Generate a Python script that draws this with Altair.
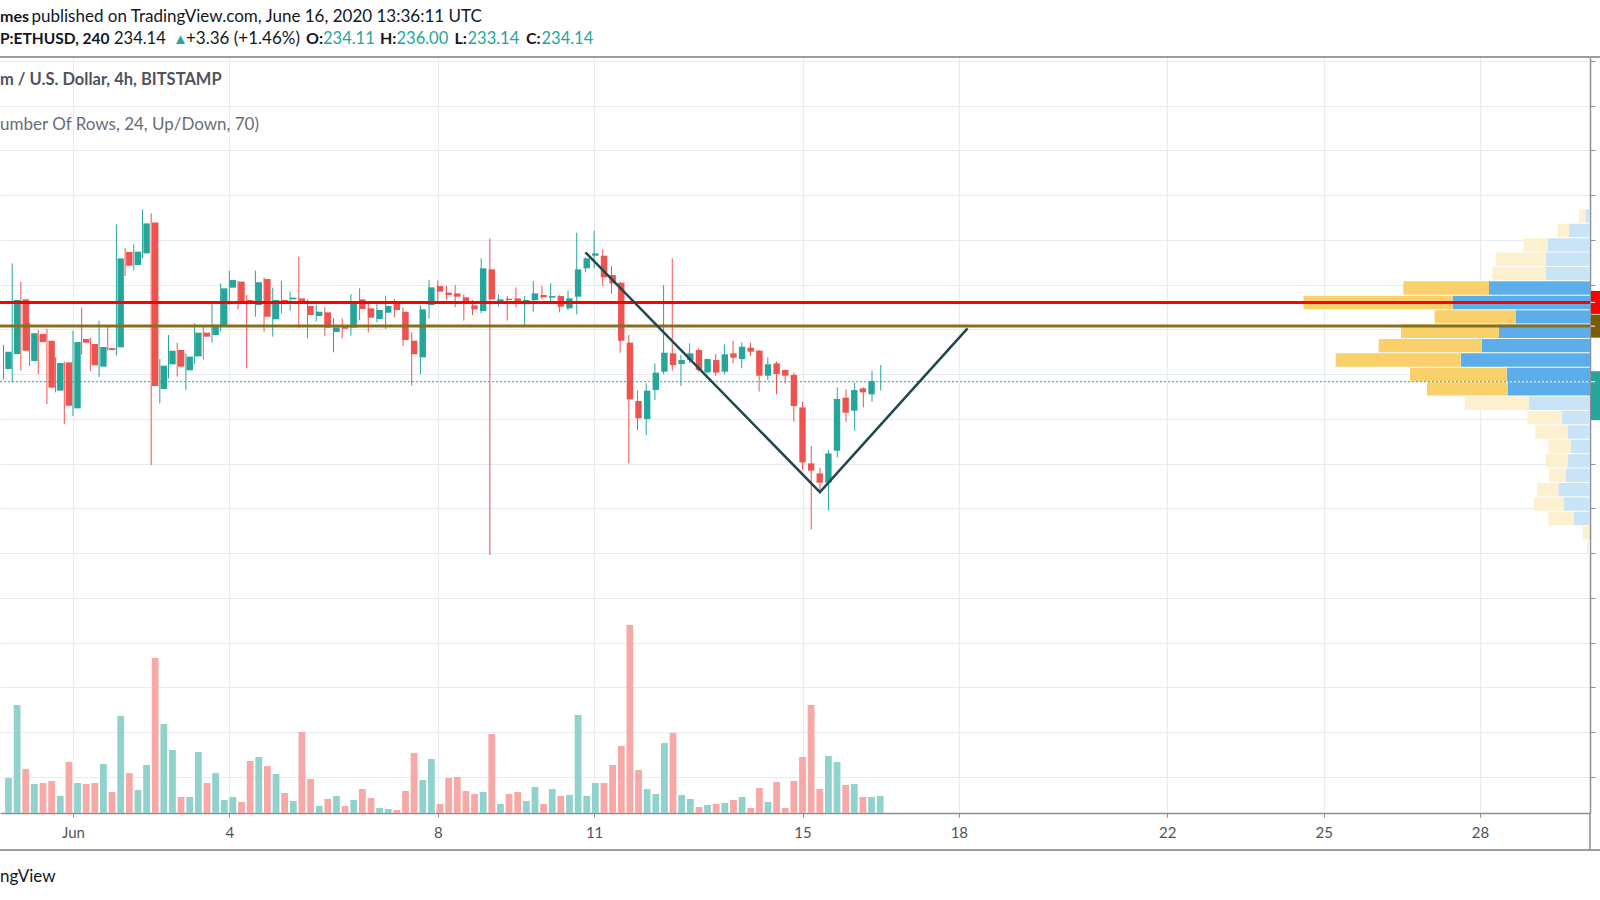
import altair as alt
import numpy as np
import pandas as pd

# ---------------- data ----------------
BAR_START = "2020-05-30 16:00"   # first visible 4h bar (UTC)

OPEN = [235.56, 237.23, 243.34, 236.45, 239.47, 238.72, 233.14, 236.30, 231.16, 238.91,
        238.35, 235.82, 237.90, 237.98, 248.63, 247.18, 248.48, 251.94, 233.32, 236.08,
        237.68, 235.41, 236.97, 239.62, 239.36, 240.47, 244.65, 245.32, 243.27, 242.71,
        245.61, 241.11, 243.27, 243.34, 243.45, 242.60, 241.48, 241.89, 239.69, 240.36,
        240.18, 243.34, 242.34, 241.14, 241.85, 242.82, 241.96, 238.72, 236.86, 242.71,
        244.83, 244.09, 244.01, 243.57, 242.67, 242.04, 246.69, 243.08, 243.42, 243.45,
        242.78, 243.27, 243.83, 243.53, 243.71, 242.34, 243.64, 246.81, 248.22, 248.22,
        246.06, 245.20, 238.50, 231.98, 229.97, 233.21, 235.26, 237.31, 236.12, 236.56,
        237.68, 235.19, 236.56, 235.26, 237.31, 236.67, 237.94, 237.61, 234.81, 236.19,
        235.45, 234.89, 231.27, 225.02, 223.90, 222.86, 226.43, 232.35, 230.90, 233.40,
        232.73, 234.11]
HIGH = [238.24, 247.36, 245.32, 240.73, 239.91, 240.03, 236.86, 236.40, 239.84, 242.41,
        239.06, 240.96, 240.29, 251.72, 249.11, 249.49, 253.40, 252.95, 236.68, 239.36,
        238.50, 237.31, 240.66, 240.36, 243.08, 245.13, 246.54, 245.40, 243.83, 246.54,
        245.80, 244.65, 245.39, 244.20, 248.11, 243.34, 242.78, 242.45, 241.22, 241.22,
        243.94, 244.57, 243.08, 242.90, 243.75, 243.38, 242.45, 239.66, 242.71, 245.50,
        245.43, 244.83, 244.94, 243.90, 243.27, 247.92, 250.16, 243.90, 243.71, 244.68,
        243.71, 245.39, 244.83, 245.13, 243.80, 244.31, 250.79, 248.03, 251.01, 248.93,
        247.07, 245.32, 239.36, 233.14, 233.96, 236.19, 244.94, 247.92, 237.12, 238.43,
        237.87, 236.75, 237.23, 238.31, 238.72, 238.54, 238.50, 237.70, 236.86, 236.38,
        235.50, 235.15, 231.91, 226.95, 224.53, 226.51, 233.51, 233.29, 234.03, 233.51,
        235.37, 236.00]
LOW = [234.40, 234.03, 235.37, 235.90, 235.00, 231.65, 232.95, 229.41, 230.30, 237.16,
       235.30, 234.66, 237.60, 237.05, 245.95, 246.58, 247.92, 224.83, 231.72, 234.51,
       234.70, 233.21, 236.12, 236.64, 238.50, 239.73, 242.71, 242.22, 235.63, 241.40,
       239.73, 239.17, 241.78, 242.07, 240.18, 238.98, 240.85, 239.24, 237.42, 238.98,
       239.28, 241.03, 239.66, 240.77, 240.03, 241.33, 238.13, 233.70, 234.96, 241.22,
       243.08, 243.27, 242.45, 240.96, 241.59, 241.78, 214.78, 242.52, 240.96, 242.45,
       240.47, 241.96, 243.34, 242.90, 241.89, 242.15, 241.66, 246.36, 246.81, 244.83,
       244.01, 237.38, 225.02, 228.74, 228.18, 232.09, 235.00, 235.37, 233.66, 236.19,
       235.26, 235.07, 234.78, 235.00, 236.19, 235.63, 237.01, 233.03, 234.33, 232.73,
       233.96, 229.67, 224.27, 217.64, 222.04, 219.73, 225.69, 229.67, 228.67, 231.27,
       231.91, 233.14]
CLOSE = [237.49, 243.27, 237.60, 239.54, 238.57, 233.47, 236.23, 231.46, 238.57, 238.50,
         235.97, 238.02, 237.68, 247.92, 247.10, 248.67, 251.83, 233.66, 235.93, 237.60,
         235.82, 236.94, 239.62, 239.17, 240.51, 244.57, 245.50, 242.90, 243.08, 245.24,
         241.40, 243.27, 243.08, 243.53, 243.08, 241.59, 241.96, 240.18, 240.21, 240.06,
         243.16, 242.26, 241.29, 242.15, 242.60, 242.15, 238.80, 237.20, 242.22, 244.68,
         244.20, 243.83, 243.64, 243.08, 242.22, 246.81, 243.34, 243.34, 243.27, 242.97,
         243.27, 244.01, 243.57, 243.71, 242.52, 243.45, 246.69, 247.92, 248.48, 245.80,
         245.13, 238.72, 232.17, 230.05, 233.14, 235.15, 237.38, 236.00, 236.56, 237.31,
         235.45, 236.67, 235.15, 237.20, 236.82, 238.05, 237.49, 234.81, 236.08, 235.00,
         234.81, 231.42, 225.13, 224.20, 222.86, 226.13, 232.21, 230.68, 233.21, 232.95,
         234.22, 234.14]
VOLUME_K = [3.5, 10.8, 4.4, 2.9, 3.0, 3.2, 1.7, 5.1, 3.0, 2.9,
            3.0, 4.9, 2.1, 9.7, 4.0, 2.3, 4.8, 15.5, 8.9, 6.3,
            1.6, 1.6, 6.1, 3.0, 4.0, 1.3, 1.6, 1.1, 5.2, 5.6,
            4.7, 3.9, 2.0, 1.2, 8.1, 3.4, 0.7, 1.4, 1.7, 0.7,
            1.3, 2.4, 1.5, 0.5, 0.4, 0.3, 2.2, 6.0, 3.3, 5.4,
            0.9, 3.5, 3.6, 2.2, 1.9, 2.1, 7.9, 0.9, 1.9, 2.1,
            1.2, 2.6, 0.9, 2.4, 1.7, 1.8, 9.8, 1.7, 3.0, 3.0,
            4.8, 6.7, 18.8, 4.3, 2.4, 1.9, 7.0, 8.0, 1.8, 1.4,
            0.6, 0.8, 0.9, 1.0, 1.3, 1.6, 0.5, 2.5, 1.1, 3.1,
            0.5, 3.2, 5.6, 10.8, 2.4, 5.7, 5.1, 2.8, 2.9, 1.6,
            1.6, 1.7]

# Volume profile (24 rows, top to bottom), up / down volume
VP_UP = [4.3, 21.0, 42.3, 44.3, 44.3, 101.0, 137.3, 74.0, 91.0, 108.3, 129.3, 83.3,
         82.0, 61.3, 28.3, 22.3, 19.3, 22.3, 24.0, 31.6, 26.3, 16.6, 1.0, 0.0]
VP_DOWN = [6.7, 11.3, 24.3, 50.0, 53.3, 85.7, 149.3, 81.3, 98.0, 103.0, 125.0, 96.7,
           81.0, 64.0, 34.3, 32.3, 22.3, 22.0, 17.0, 21.3, 29.7, 25.0, 6.3, 3.0]
VP_VALUE_AREA = [False] * 5 + [True] * 8 + [False] * 11

RESISTANCE = 243.0
SUPPORT = 240.35
LAST_PRICE = 234.14

V_TIMES = ["2020-06-10T20:00:00Z", "2020-06-15T08:00:00Z", "2020-06-18T04:00:00Z"]
V_PRICES = [248.6, 221.8, 240.1]

TICK_DAYS = [1, 4, 8, 11, 15, 18, 22, 25, 28]
PRICE_GRID = list(range(190, 271, 5))

# ---------------- styling ----------------
FONT = "Lato"
GREEN, RED = "#26a69a", "#ef5350"
VGREEN, VRED = "#92d2cc", "#f7a9a7"
GRID = "#e6ecf2"
AX = "#8a8e97"
W, H = 1590, 756

times = pd.date_range(BAR_START, periods=len(OPEN), freq="4h")
df = pd.DataFrame({
    "t": times.strftime("%Y-%m-%dT%H:%M:%SZ"),
    "open": OPEN, "high": HIGH, "low": LOW, "close": CLOSE, "vol": VOLUME_K,
})
df["dir"] = np.where(df["close"] >= df["open"], "up", "down")

hi, lo = max(HIGH), min(LOW)
step = (hi - lo) / len(VP_UP)
vp_rows = []
for i, (u, d, va) in enumerate(zip(VP_UP, VP_DOWN, VP_VALUE_AREA)):
    top = hi - i * step
    bot = top - step
    vp_rows.append({"top": top, "bot": bot, "x0": 0.0, "x1": u, "kind": "up" + ("_va" if va else "")})
    vp_rows.append({"top": top, "bot": bot, "x0": u, "x1": u + d, "kind": "down" + ("_va" if va else "")})
vp = pd.DataFrame(vp_rows)

X_DOMAIN = [alt.DateTime(year=2020, month=5, date=30, hours=14, minutes=23, utc=True),
            alt.DateTime(year=2020, month=6, date=30, hours=2, minutes=40, utc=True)]
TS = alt.Scale(type="utc", domain=X_DOMAIN)
PS = alt.Scale(domain=[185.95, 270.42], nice=False, zero=False)
DIR_COLOR = alt.Color("dir:N", scale=alt.Scale(domain=["up", "down"], range=[GREEN, RED]), legend=None)

x_axis = alt.Axis(
    values=[alt.DateTime(year=2020, month=6, date=d, utc=True) for d in TICK_DAYS],
    labelExpr="utcFormat(datum.value, '%d') == '01' ? 'Jun' : utcFormat(datum.value, '%-d')",
    grid=True, gridColor=GRID, gridWidth=1, tickSize=4, tickColor=AX, domainColor=AX,
    domainWidth=1.5, labelFontSize=15, labelColor="#50535e", labelPadding=8, title=None,
    labelFont=FONT, labelFlush=False,
)
y_axis = alt.Axis(
    orient="right", values=PRICE_GRID, labels=False, ticks=True, tickSize=5, tickColor=AX,
    domainColor=AX, domainWidth=1.5, grid=True, gridColor=GRID, gridWidth=1, title=None,
)

base = alt.Chart(df)

wicks = base.mark_rule(strokeWidth=1).encode(
    x=alt.X("t:T", scale=TS, axis=x_axis),
    y=alt.Y("low:Q", scale=PS, axis=y_axis),
    y2="high:Q",
    color=DIR_COLOR,
)
bodies = base.mark_bar(width=6.4).encode(
    x=alt.X("t:T", scale=TS, axis=None),
    y=alt.Y("open:Q", scale=PS, axis=None),
    y2="close:Q",
    color=DIR_COLOR,
)
volume = base.mark_bar(width=6.8).encode(
    x=alt.X("t:T", scale=TS, axis=None),
    y=alt.Y("vol:Q", scale=alt.Scale(domain=[0, 75.6], nice=False), axis=None),
    color=alt.Color("dir:N", scale=alt.Scale(domain=["up", "down"], range=[VGREEN, VRED]), legend=None),
)
profile = alt.Chart(vp).mark_rect(y2Offset=-1).encode(
    x=alt.X("x0:Q", scale=alt.Scale(domain=[0, W], reverse=True, nice=False, zero=False), axis=None),
    x2="x1:Q",
    y=alt.Y("top:Q", scale=PS, axis=None),
    y2="bot:Q",
    color=alt.Color("kind:N", scale=alt.Scale(
        domain=["up_va", "down_va", "up", "down"],
        range=["#5caeea", "#f9d06a", "#c9e3f7", "#fdf0cf"]), legend=None),
)

levels = pd.DataFrame({"p": [LAST_PRICE, SUPPORT, RESISTANCE],
                       "name": ["last", "support", "resistance"]})
last_line = alt.Chart(levels[levels.name == "last"]).mark_rule(
    color=GREEN, strokeWidth=1, strokeDash=[2, 2]).encode(y=alt.Y("p:Q", scale=PS, axis=None))
support_line = alt.Chart(levels[levels.name == "support"]).mark_rule(
    color="#86701f", strokeWidth=3).encode(y=alt.Y("p:Q", scale=PS, axis=None))
res_line = alt.Chart(levels[levels.name == "resistance"]).mark_rule(
    color="#ff0000", strokeWidth=3).encode(y=alt.Y("p:Q", scale=PS, axis=None))

vdf = pd.DataFrame({"t": V_TIMES, "p": V_PRICES, "o": [0, 1, 2]})
vline = alt.Chart(vdf).mark_line(color="#22474f", strokeWidth=2.5).encode(
    x=alt.X("t:T", scale=TS, axis=None),
    y=alt.Y("p:Q", scale=PS, axis=None),
    order="o:Q",
)

# price tags on the (cut-off) right price scale
def tag(name, color, width, offset=0):
    return alt.Chart(levels[levels.name == name]).mark_rule(
        color=color, strokeWidth=width, yOffset=offset).encode(
        y=alt.Y("p:Q", scale=PS, axis=None), x=alt.value(W + 1), x2=alt.value(W + 10))

tags = [tag("resistance", "#ff0000", 23), tag("support", "#7a5c00", 23),
        tag("last", GREEN, 49, 14)]
tag_ticks = alt.Chart(levels).mark_rule(color="white", strokeWidth=1).encode(
    y=alt.Y("p:Q", scale=PS, axis=None), x=alt.value(W + 1), x2=alt.value(W + 5))

# frame lines
one = pd.DataFrame({"a": [0]})
top_sep = alt.Chart(one).mark_rule(color="#9a9da4", strokeWidth=2).encode(
    x=alt.value(0), x2=alt.value(W + 10), y=alt.value(0))
bottom_sep = alt.Chart(one).mark_rule(color="#9a9da4", strokeWidth=2).encode(
    x=alt.value(0), x2=alt.value(W + 10), y=alt.value(H + 37))
right_sep = alt.Chart(one).mark_rule(color=AX, strokeWidth=1.5).encode(
    x=alt.value(W), y=alt.value(H), y2=alt.value(H + 37))


def txt(s, x, y, color="#131722", bold=False, size=16):
    return alt.Chart(pd.DataFrame({"s": [s]})).mark_text(
        align="left", baseline="middle", font=FONT, fontSize=size,
        fontWeight="bold" if bold else "normal", color=color,
    ).encode(text="s:N", x=alt.value(x), y=alt.value(y))


texts = [
    txt("mes", 0, -40.5, bold=True),
    txt("published on TradingView.com, June 16, 2020 13:36:11 UTC", 31.5, -40.5, size=17),
    txt("P:ETHUSD, 240", 0, -18, bold=True, size=15.5),
    txt("234.14", 114, -18, size=16.5),
    txt("▲", 173, -18.5, color=GREEN, size=15),
    txt("+3.36 (+1.46%)", 186, -18, size=17),
    txt("O:", 306, -18, bold=True),
    txt("234.11", 323, -18, color=GREEN, size=16.5),
    txt("H:", 380, -18, bold=True),
    txt("236.00", 396.5, -18, color=GREEN, size=16.5),
    txt("L:", 454.5, -18, bold=True),
    txt("233.14", 467.5, -18, color=GREEN, size=16.5),
    txt("C:", 526, -18, bold=True),
    txt("234.14", 541.5, -18, color=GREEN, size=16.5),
    txt("m / U.S. Dollar, 4h, BITSTAMP", 0, 22.5, color="#50535e", bold=True, size=16.5),
    txt("umber Of Rows, 24, Up/Down, 70)", 0, 67.5, color="#6a6d78", size=17),
    txt("ngView", 0, 820, size=17),
]

chart = alt.layer(
    wicks, profile, volume, bodies, last_line, support_line, res_line, vline,
    *tags, tag_ticks, top_sep, bottom_sep, right_sep, *texts,
).resolve_scale(
    x="independent", y="independent", color="independent"
).properties(
    width=W, height=H,
    padding={"left": 0, "right": 10, "top": 57, "bottom": 87},
    autosize=alt.AutoSizeParams(type="none"),
    background="white",
).configure_view(stroke=None)

chart.save("out.html", embed_options={"renderer": "svg", "actions": False})
